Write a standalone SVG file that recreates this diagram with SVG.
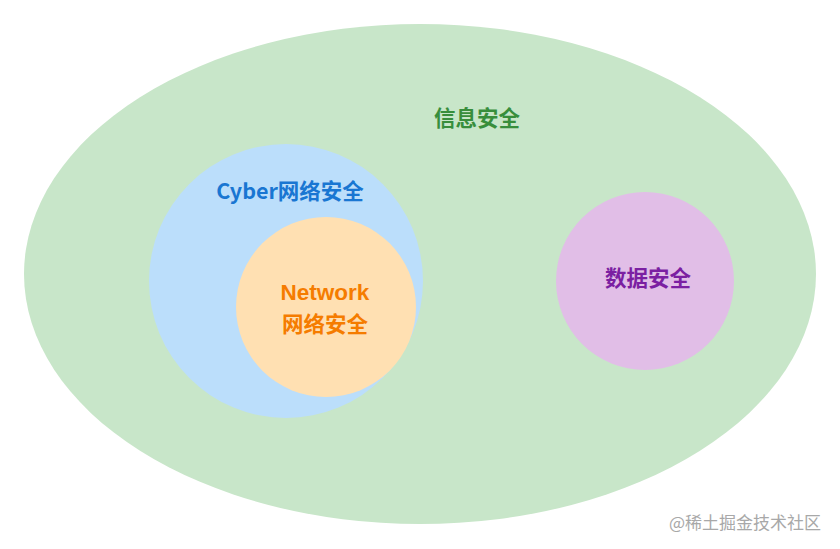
<svg xmlns="http://www.w3.org/2000/svg" width="840" height="549" viewBox="0 0 840 549">
<style>
text{font-family:"Noto Sans CJK SC","Noto Sans",sans-serif;font-weight:bold;font-size:21.5px;text-anchor:middle;dominant-baseline:central}
.lat{font-family:"Liberation Sans",Arial,sans-serif;font-size:22.5px}
</style>
<rect width="840" height="549" fill="#ffffff"/>
<g id="info">
<ellipse cx="420" cy="274" rx="396" ry="250" fill="#C8E6C9"/>
<text x="477" y="116" fill="#388E3C">信息安全</text>
</g>
<g id="cyber">
<circle cx="286" cy="281" r="137" fill="#BBDEFB"/>
<text x="290" y="189" fill="#1976D2">Cyber网络安全</text>
</g>
<g id="network">
<circle cx="326" cy="307" r="90" fill="#FFE0B2"/>
<text class="lat" x="325" y="292" fill="#F57C00">Network</text>
<text x="325" y="322" fill="#F57C00">网络安全</text>
</g>
<g id="data">
<circle cx="645" cy="281" r="89" fill="#E1BEE7"/>
<text x="648" y="276" fill="#7B1FA2">数据安全</text>
</g>
<g id="connectors"></g>
<text x="745" y="521" style="font-weight:normal;font-size:17px;fill:#A8A8A8">@稀土掘金技术社区</text>
</svg>
